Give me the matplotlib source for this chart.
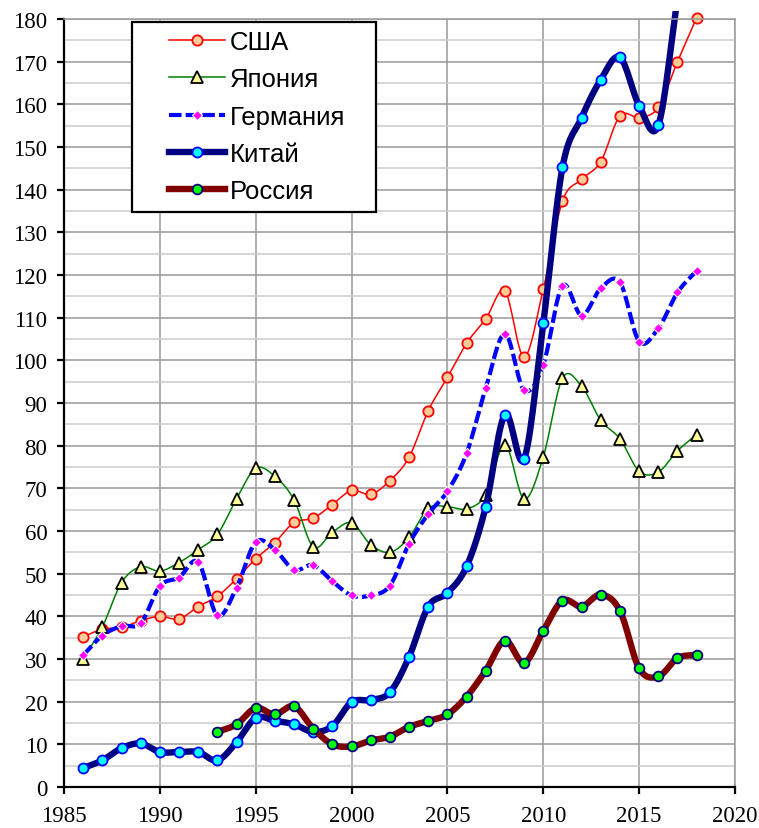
import numpy as np
import matplotlib
matplotlib.use("Agg")
import matplotlib.pyplot as plt
from matplotlib.patches import Rectangle
from matplotlib.ticker import MultipleLocator

plt.rcParams["font.family"] = ["Liberation Serif", "DejaVu Serif"]

# ---------------- data ----------------
years = list(range(1986, 2019))
years_ru = list(range(1993, 2019))

usa = [35.2, 37.0, 37.4, 39.0, 40.0, 39.4, 42.3, 44.7, 48.8, 53.5,
       57.3, 62.0, 63.0, 66.2, 69.5, 68.6, 71.8, 77.3, 88.2, 96.0,
       104.0, 109.7, 116.2, 100.8, 116.7, 137.3, 142.4, 146.6, 157.3, 156.9,
       159.3, 170.0, 180.3]
japan = [30.1, 37.5, 47.9, 51.6, 50.6, 52.6, 55.6, 59.2, 67.5, 74.7,
         72.8, 67.3, 56.3, 59.7, 61.9, 56.8, 55.0, 58.5, 65.3, 65.7,
         65.2, 68.5, 80.2, 67.5, 77.4, 95.8, 93.9, 85.9, 81.6, 74.0,
         73.8, 78.8, 82.6]
germany = [30.9, 35.5, 37.7, 38.4, 47.1, 49.1, 52.7, 40.2, 46.7, 57.4,
           55.6, 50.9, 52.0, 48.2, 44.9, 44.9, 47.2, 57.0, 64.0, 69.3,
           78.2, 93.5, 106.2, 93.0, 99.0, 117.5, 110.5, 116.9, 118.3, 104.4,
           107.5, 115.9, 121.0]
china = [4.45, 6.25, 9.1, 10.2, 8.2, 8.2, 8.2, 6.25, 10.5, 16.2,
         15.5, 14.7, 12.9, 14.3, 19.9, 20.4, 22.2, 30.5, 42.3, 45.5,
         51.7, 65.7, 87.3, 76.9, 108.7, 145.2, 156.9, 165.8, 171.0, 159.7,
         155.1, 185.0, 215.0]
russia = [12.9, 14.7, 18.5, 17.0, 18.9, 13.7, 10.0, 9.5, 10.9, 11.8,
          14.1, 15.5, 17.0, 21.2, 27.3, 34.3, 29.1, 36.6, 43.7, 42.3,
          45.1, 41.3, 27.8, 25.9, 30.2, 31.0]

labels = ["США", "Япония", "Германия", "Китай", "Россия"]


# Excel-style smoothed line (Catmull-Rom through the data points)
def smooth(x, y, n=16):
    pts = np.column_stack([np.asarray(x, float), np.asarray(y, float)])
    k = len(pts)
    tang = np.zeros_like(pts)
    tang[1:-1] = (pts[2:] - pts[:-2]) / 2
    tang[0] = pts[1] - pts[0]
    tang[-1] = pts[-1] - pts[-2]
    t = np.linspace(0, 1, n, endpoint=False)[:, None]
    h00 = 2 * t**3 - 3 * t**2 + 1
    h10 = t**3 - 2 * t**2 + t
    h01 = -2 * t**3 + 3 * t**2
    h11 = t**3 - t**2
    out = []
    for i in range(k - 1):
        out.append(h00 * pts[i] + h10 * tang[i] + h01 * pts[i + 1] + h11 * tang[i + 1])
    out.append(pts[-1:])
    out = np.vstack(out)
    idx = [i * n for i in range(k)]
    return out[:, 0], out[:, 1], idx


fig = plt.figure(figsize=(7.59, 8.29), dpi=100)
ax = fig.add_axes([64 / 759, 41 / 829, 671 / 759, 768 / 829])

ax.set_xlim(1985, 2020)
ax.set_ylim(0, 180)
ax.xaxis.set_major_locator(MultipleLocator(5))
ax.yaxis.set_major_locator(MultipleLocator(10))
ax.yaxis.set_minor_locator(MultipleLocator(5))

ax.grid(True, which="major", color="#999999", linewidth=1.1)
ax.grid(True, which="minor", axis="y", color="#cccccc", linewidth=1.1)
ax.set_axisbelow(True)

for s in ["left", "bottom"]:
    ax.spines[s].set_color("black")
    ax.spines[s].set_linewidth(1.6)
for s in ["top", "right"]:
    ax.spines[s].set_color("#999999")
    ax.spines[s].set_linewidth(1.1)

ax.tick_params(axis="both", which="major", direction="out", length=5,
               width=1.6, color="black", labelsize=16.5)
ax.tick_params(axis="y", pad=7)
ax.tick_params(axis="x", pad=8)
ax.tick_params(axis="y", which="minor", length=0)

clip = Rectangle((0, 0), 1, 1 + 8 / 768, transform=ax.transAxes)

styles = [
    (years, usa, dict(color="#ff0000", lw=1.1, marker="o", ms=7.4,
                      mfc="#ffcc99", mec="#ff0000", mew=1.3)),
    (years, japan, dict(color="#008000", lw=1.1, marker="^", ms=8.7,
                        mfc="#ffff99", mec="black", mew=1.3)),
    (years, germany, dict(color="#0000ff", lw=3.0, ls=(0, (3.0, 1.0)),
                          marker="D", ms=5.0, mfc="#ff00ff", mec="white",
                          mew=0.8)),
    (years, china, dict(color="#000080", lw=4.6, marker="o", ms=7.2,
                        mfc="#00ffff", mec="#0000ff", mew=1.3)),
    (years_ru, russia, dict(color="#800000", lw=4.6, marker="o", ms=7.0,
                            mfc="#00ff00", mec="#000080", mew=1.3)),
]

handles = []
for (xv, yv, st), name in zip(styles, labels):
    sx, sy, idx = smooth(xv, yv)
    ln, = ax.plot(sx, sy, markevery=idx, label=name, **st)
    ln.set_clip_path(clip)
    handles.append(ln)

# legend box
fig.patches.append(Rectangle((132, 829 - 213), 244, 190, transform=None,
                             facecolor="white", edgecolor="black",
                             linewidth=1.6, zorder=5))
leg = fig.legend(handles=handles, loc="upper left",
                 bbox_to_anchor=(168.5 / 759, (829 - 31) / 829),
                 frameon=False, borderpad=0, borderaxespad=0,
                 handlelength=2.2, handletextpad=0.2, labelspacing=0.52,
                 numpoints=1, prop={"family": "Liberation Sans", "size": 18.5})
leg.set_zorder(6)

fig.savefig("out.png", dpi=100)
